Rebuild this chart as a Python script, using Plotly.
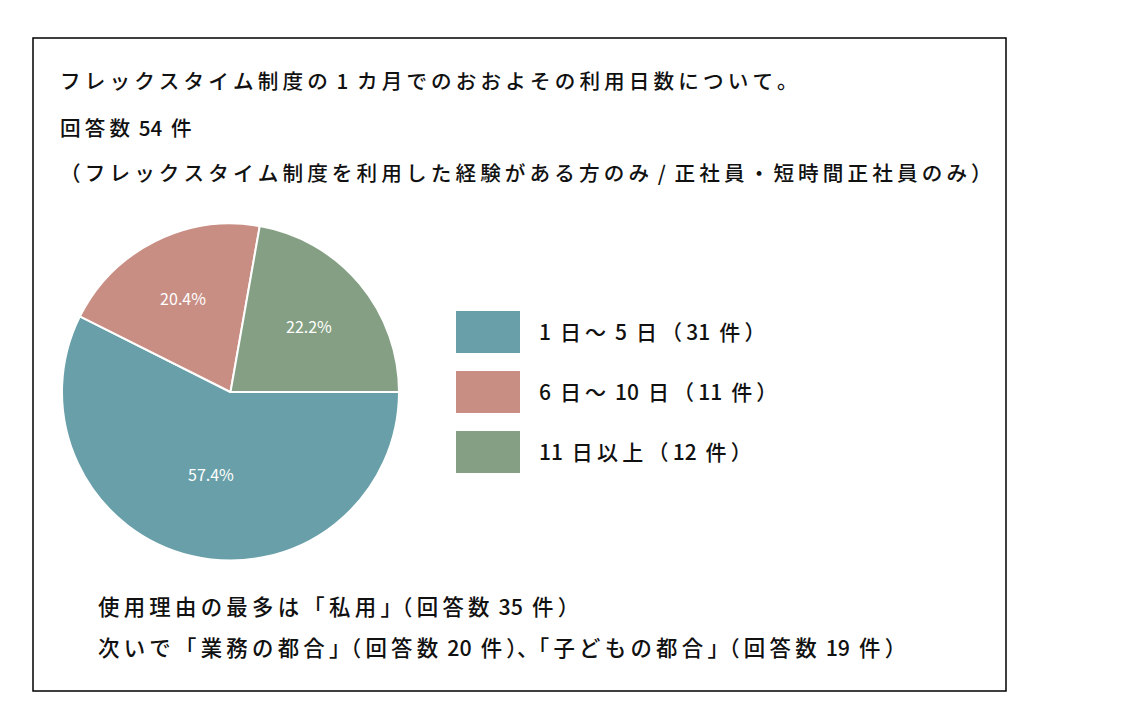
import plotly.graph_objects as go

W, H = 1135, 721

categories = ["1 日～ 5 日（31 件）", "6 日～ 10 日（11 件）", "11 日以上（12 件）"]
counts = [31, 11, 12]
colors = ["#689fa8", "#c88e84", "#849f83"]

title_lines = [
    "フレックスタイム制度の 1 カ月でのおおよその利用日数について。",
    "回答数 54 件",
    "（フレックスタイム制度を利用した経験がある方のみ / 正社員・短時間正社員のみ）",
]
note_lines = [
    "使用理由の最多は「私用」（回答数 35 件）",
    "次いで「業務の都合」（回答数 20 件）、「子どもの都合」（回答数 19 件）",
]

FONT = "Noto Sans CJK JP"
SP = "\u2009"
PUNCT = "「」（）、。"


def spaced(s, tight_punct=False):
    out = ""
    for i, ch in enumerate(s):
        out += (" " + SP) if ch == " " else ch
        if i + 1 < len(s):
            nxt = s[i + 1]
            if ch == " " or nxt == " ":
                continue
            if ch.isascii() and nxt.isascii():
                continue
            if tight_punct and ch in PUNCT and nxt in PUNCT:
                continue
            out += SP
    return out


def px(x):
    return x / W


def py(y):
    return 1 - y / H


fig = go.Figure()
cx, cy, r = 230.5, 392, 168.5
fig.add_trace(go.Pie(
    labels=categories,
    values=counts,
    marker=dict(colors=colors, line=dict(color="white", width=2)),
    sort=False,
    direction="clockwise",
    rotation=90,
    textinfo="percent",
    texttemplate="%{percent:.1%}",
    textposition="inside",
    insidetextorientation="horizontal",
    textfont=dict(family=FONT, size=16, color="white"),
    domain=dict(x=[px(cx - r), px(cx + r)], y=[py(cy + r), py(cy - r)]),
    showlegend=False,
    hoverinfo="label+percent",
))

shapes = [dict(type="rect", xref="paper", yref="paper",
               x0=px(33), x1=px(1006), y0=py(691), y1=py(38),
               line=dict(color="black", width=1.5), fillcolor="rgba(0,0,0,0)")]
annotations = []

TXT = dict(family=FONT, color="#111", weight=500)

for i, line in enumerate(title_lines):
    annotations.append(dict(text=spaced(line), x=px(58), y=py([80, 127, 172][i]),
                            xref="paper", yref="paper", xanchor="left", yanchor="middle",
                            showarrow=False, font=dict(size=20.6, **TXT)))

for i, (cat, col) in enumerate(zip(categories, colors)):
    y0 = 311 + i * 60
    shapes.append(dict(type="rect", xref="paper", yref="paper",
                       x0=px(456), x1=px(520), y0=py(y0 + 42), y1=py(y0),
                       line=dict(width=0), fillcolor=col))
    annotations.append(dict(text=spaced(cat), x=px(537), y=py(y0 + 20),
                            xref="paper", yref="paper", xanchor="left", yanchor="middle",
                            showarrow=False, font=dict(size=21, **TXT)))

for i, line in enumerate(note_lines):
    annotations.append(dict(text=spaced(line, tight_punct=True), x=px(96), y=py([605, 646][i]),
                            xref="paper", yref="paper", xanchor="left", yanchor="middle",
                            showarrow=False, font=dict(size=21.4, **TXT)))

fig.update_layout(
    width=W, height=H,
    margin=dict(l=0, r=0, t=0, b=0),
    paper_bgcolor="white", plot_bgcolor="white",
    shapes=shapes, annotations=annotations,
)

fig.write_html("out.html")
